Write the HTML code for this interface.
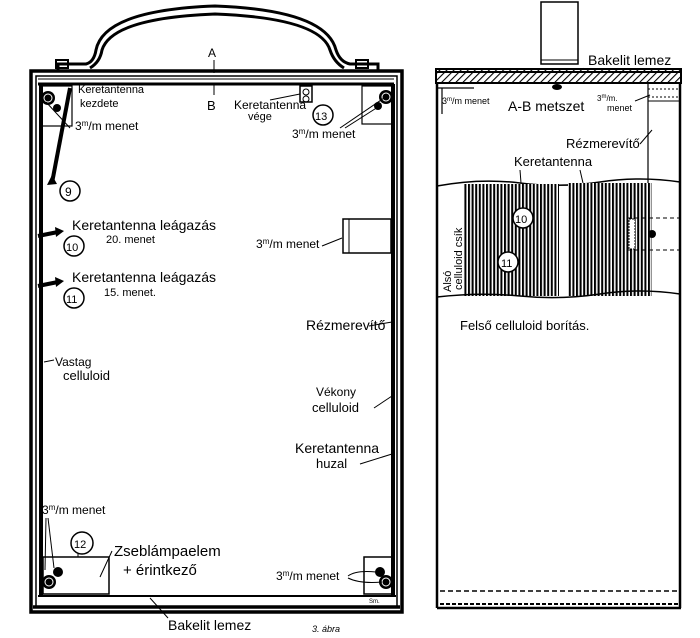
<!DOCTYPE html>
<html><head><meta charset="utf-8"><style>
html,body{margin:0;padding:0;background:#fff;}
svg{display:block;}
text{font-family:"Liberation Sans",sans-serif;fill:#000;}
</style></head><body>
<svg width="700" height="638" viewBox="0 0 700 638" xmlns="http://www.w3.org/2000/svg">
<defs>
<pattern id="hatch" width="5" height="5" patternUnits="userSpaceOnUse" patternTransform="rotate(45)">
<rect width="5" height="5" fill="#fff"/><line x1="0" y1="0" x2="0" y2="5" stroke="#000" stroke-width="2.2"/></pattern>
<pattern id="vs" width="3.6" height="10" patternUnits="userSpaceOnUse">
<rect width="3.6" height="10" fill="#fff"/><rect width="2" height="10" fill="#000"/></pattern>
</defs>
<!-- Handle -->
<path d="M58 70 L58 64 L86 64 Q94 62 96 50 Q104 10 215 6 Q326 10 336 50 Q340 62 350 64 L378 64 L378 70" fill="none" stroke="#000" stroke-width="3"/>
<path d="M90 68 Q100 62 102 50 Q112 18 215 14 Q320 18 330 50 Q334 62 344 68" fill="none" stroke="#000" stroke-width="3"/>
<rect x="56" y="60" width="12" height="8" fill="none" stroke="#000" stroke-width="2"/>
<rect x="356" y="60" width="12" height="8" fill="none" stroke="#000" stroke-width="2"/>
<!-- Left frame -->
<rect x="31" y="71" width="371" height="541" fill="none" stroke="#000" stroke-width="3.5"/>
<rect x="36" y="76" width="361" height="531" fill="none" stroke="#000" stroke-width="1.5"/>
<line x1="38" y1="84" x2="394" y2="84" stroke="#000" stroke-width="3"/>
<line x1="38" y1="79" x2="394" y2="79" stroke="#000" stroke-width="1"/>
<line x1="41" y1="84" x2="41" y2="596" stroke="#000" stroke-width="4"/>
<line x1="393" y1="84" x2="393" y2="596" stroke="#000" stroke-width="4"/>
<line x1="38" y1="596" x2="396" y2="596" stroke="#000" stroke-width="2"/>
<line x1="33" y1="607" x2="400" y2="607" stroke="#000" stroke-width="3.5"/>
<!-- A-B -->
<text x="208" y="57" font-size="12">A</text>
<line x1="214" y1="60" x2="214" y2="73" stroke="#000" stroke-width="1"/>
<line x1="214" y1="84" x2="214" y2="95" stroke="#000" stroke-width="1"/>
<text x="207" y="110" font-size="13">B</text>
<!-- top-left corner -->
<rect x="42" y="86" width="30" height="40" fill="none" stroke="#000" stroke-width="1.2"/>
<circle cx="48" cy="98" r="7" fill="#000"/><circle cx="48" cy="98" r="4" fill="none" stroke="#fff" stroke-width="1"/>
<circle cx="57" cy="108" r="4" fill="#000"/>
<line x1="46" y1="102" x2="70" y2="128" stroke="#000" stroke-width="1"/>
<path d="M70 88 L52 183" stroke="#000" stroke-width="4" fill="none"/>
<path d="M47 185 L52 175 L57 184 Z" fill="#000"/>
<text x="78" y="93" font-size="11">Keretantenna</text>
<text x="80" y="107" font-size="11">kezdete</text>
<text x="75" y="130" font-size="12">3<tspan font-size="8" dy="-4">m</tspan><tspan dy="4">/m menet</tspan></text>
<circle cx="70" cy="191" r="10" fill="#fff" stroke="#000" stroke-width="1.5"/><text x="65" y="196" font-size="12">9</text>
<!-- taps -->
<path d="M38 236 L58 232" stroke="#000" stroke-width="4"/><path d="M55 227 L64 231 L56 237 Z" fill="#000"/>
<circle cx="74" cy="246" r="10" fill="#fff" stroke="#000" stroke-width="1.5"/><text x="66" y="251" font-size="11">10</text>
<text x="72" y="230" font-size="14">Keretantenna leágazás</text>
<text x="106" y="243" font-size="11">20. menet</text>
<path d="M38 286 L58 282" stroke="#000" stroke-width="4"/><path d="M55 277 L64 281 L56 287 Z" fill="#000"/>
<circle cx="74" cy="298" r="10" fill="#fff" stroke="#000" stroke-width="1.5"/><text x="66" y="303" font-size="11">11</text>
<text x="72" y="282" font-size="14">Keretantenna leágazás</text>
<text x="104" y="296" font-size="11">15. menet.</text>
<!-- top-right -->
<rect x="300" y="86" width="12" height="16" fill="none" stroke="#000" stroke-width="1.5"/>
<circle cx="306" cy="92" r="3" fill="none" stroke="#000"/><circle cx="306" cy="99" r="3" fill="none" stroke="#000"/>
<text x="234" y="109" font-size="12">Keretantenna</text>
<text x="248" y="120" font-size="11">vége</text>
<line x1="270" y1="100" x2="300" y2="94" stroke="#000"/>
<circle cx="323" cy="115" r="10" fill="#fff" stroke="#000" stroke-width="1.5"/><text x="315" y="120" font-size="11">13</text>
<rect x="362" y="86" width="30" height="38" fill="none" stroke="#000" stroke-width="1.2"/>
<circle cx="386" cy="97" r="7" fill="#000"/><circle cx="386" cy="97" r="4" fill="none" stroke="#fff"/>
<circle cx="378" cy="106" r="4" fill="#000"/>
<line x1="340" y1="128" x2="384" y2="98" stroke="#000"/><line x1="345" y1="128" x2="378" y2="107" stroke="#000"/>
<text x="292" y="138" font-size="12">3<tspan font-size="8" dy="-4">m</tspan><tspan dy="4">/m menet</tspan></text>
<!-- right middle block -->
<rect x="343" y="219" width="48" height="34" fill="none" stroke="#000" stroke-width="1.5"/>
<line x1="349" y1="219" x2="349" y2="253" stroke="#000"/>
<text x="256" y="248" font-size="12">3<tspan font-size="8" dy="-4">m</tspan><tspan dy="4">/m menet</tspan></text>
<line x1="322" y1="246" x2="342" y2="238" stroke="#000"/>
<text x="306" y="330" font-size="14">Rézmerevítő</text>
<line x1="369" y1="326" x2="392" y2="322" stroke="#000"/>
<text x="316" y="396" font-size="12">Vékony</text>
<text x="312" y="412" font-size="13">celluloid</text>
<line x1="374" y1="408" x2="392" y2="396" stroke="#000"/>
<text x="295" y="453" font-size="14">Keretantenna</text>
<text x="316" y="468" font-size="13">huzal</text>
<line x1="360" y1="464" x2="392" y2="454" stroke="#000"/>
<text x="55" y="366" font-size="12">Vastag</text>
<text x="63" y="380" font-size="13">celluloid</text>
<line x1="44" y1="362" x2="54" y2="360" stroke="#000"/>
<!-- bottom left -->
<text x="42" y="514" font-size="12">3<tspan font-size="8" dy="-4">m</tspan><tspan dy="4">/m menet</tspan></text>
<line x1="46" y1="518" x2="45" y2="570" stroke="#000"/><line x1="48" y1="518" x2="54" y2="568" stroke="#000"/>
<rect x="43" y="557" width="66" height="37" fill="none" stroke="#000" stroke-width="1.5"/>
<circle cx="58" cy="572" r="5" fill="#000"/>
<circle cx="49" cy="582" r="7" fill="#000"/><circle cx="49" cy="582" r="4" fill="none" stroke="#fff"/>
<line x1="78" y1="557" x2="78" y2="552" stroke="#000"/>
<circle cx="82" cy="543" r="11" fill="#fff" stroke="#000" stroke-width="1.5"/><text x="74" y="548" font-size="11">12</text>
<text x="114" y="556" font-size="15">Zseblámpaelem</text>
<text x="123" y="575" font-size="15">+ érintkező</text>
<line x1="112" y1="551" x2="100" y2="577" stroke="#000"/>
<!-- bottom right -->
<rect x="364" y="557" width="28" height="37" fill="none" stroke="#000" stroke-width="1.5"/>
<circle cx="380" cy="572" r="5" fill="#000"/>
<circle cx="386" cy="582" r="7" fill="#000"/><circle cx="386" cy="582" r="4" fill="none" stroke="#fff"/>
<text x="276" y="580" font-size="12">3<tspan font-size="8" dy="-4">m</tspan><tspan dy="4">/m menet</tspan></text>
<path d="M348 576 Q356 570 376 572 M348 578 Q360 584 382 582" stroke="#000" fill="none"/>
<text x="369" y="603" font-size="6">Sm.</text>
<line x1="150" y1="598" x2="168" y2="618" stroke="#000"/>
<text x="168" y="630" font-size="14">Bakelit lemez</text>
<text x="312" y="632" font-size="9" font-style="italic">3. ábra</text>
<!-- RIGHT PANEL -->
<rect x="541" y="2" width="37" height="62" fill="#fff" stroke="#000" stroke-width="1.5"/>
<line x1="541" y1="60" x2="578" y2="60" stroke="#000"/>
<text x="588" y="65" font-size="14">Bakelit lemez</text>
<line x1="584" y1="68" x2="580" y2="78" stroke="#000"/>
<rect x="436" y="69" width="245" height="14" fill="url(#hatch)" stroke="#000" stroke-width="2"/>
<line x1="436" y1="72" x2="681" y2="72" stroke="#000" stroke-width="2"/>
<line x1="437" y1="83" x2="437" y2="608" stroke="#000" stroke-width="2.5"/>
<line x1="680" y1="83" x2="680" y2="608" stroke="#000" stroke-width="2.5"/>
<line x1="437" y1="608" x2="681" y2="608" stroke="#000" stroke-width="2.5"/>
<path d="M437 88 L474 88" stroke="#000" stroke-width="1.2" fill="none"/>
<path d="M442 88 L442 114" stroke="#000" stroke-width="1.2"/>
<ellipse cx="557" cy="87" rx="5" ry="3" fill="#000"/>
<rect x="648" y="83" width="32" height="18" fill="none" stroke="#000"/>
<line x1="648" y1="89" x2="680" y2="89" stroke="#000" stroke-dasharray="2,2"/>
<line x1="648" y1="97" x2="680" y2="97" stroke="#000" stroke-dasharray="2,2"/>
<line x1="648" y1="83" x2="648" y2="184" stroke="#000" stroke-width="1.2"/>
<text x="442" y="104" font-size="9">3<tspan font-size="6" dy="-3">m</tspan><tspan dy="3">/m menet</tspan></text>
<text x="508" y="111" font-size="14">A-B metszet</text>
<text x="597" y="101" font-size="8">3<tspan font-size="6" dy="-3">m</tspan><tspan dy="3">/m.</tspan></text>
<text x="607" y="111" font-size="9">menet</text>
<line x1="635" y1="101" x2="650" y2="95" stroke="#000"/>
<text x="566" y="148" font-size="13">Rézmerevítő</text>
<line x1="640" y1="144" x2="652" y2="130" stroke="#000"/>
<text x="514" y="166" font-size="13">Keretantenna</text>
<line x1="520" y1="170" x2="521" y2="183" stroke="#000"/><line x1="580" y1="170" x2="583" y2="183" stroke="#000"/>
<path d="M437 186 Q480 178 520 183 T600 182 T680 182" fill="none" stroke="#000" stroke-width="1.5"/>
<rect x="463" y="184" width="96" height="112" fill="url(#vs)"/>
<rect x="568" y="183" width="84" height="113" fill="url(#vs)"/>
<path d="M437 297 Q480 292 520 296 T600 294 T680 294" fill="none" stroke="#000" stroke-width="1.5"/>
<line x1="628" y1="218" x2="680" y2="218" stroke="#000" stroke-dasharray="4,3"/>
<line x1="628" y1="250" x2="680" y2="250" stroke="#000" stroke-dasharray="4,3"/>
<rect x="629" y="219" width="6" height="30" fill="#fff" stroke="#000" stroke-dasharray="2,1"/>
<circle cx="652" cy="234" r="4" fill="#000"/>
<circle cx="523" cy="218" r="10" fill="#fff" stroke="#000" stroke-width="1.5"/><text x="515" y="223" font-size="11">10</text>
<circle cx="508" cy="262" r="10" fill="#fff" stroke="#000" stroke-width="1.5"/><text x="501" y="267" font-size="11">11</text>
<text transform="translate(451,292) rotate(-90)" font-size="11">Alsó</text>
<text transform="translate(462,290) rotate(-90)" font-size="11">celluloid csík</text>
<text x="460" y="330" font-size="13">Felső celluloid borítás.</text>
<line x1="440" y1="591" x2="680" y2="591" stroke="#000" stroke-width="1.5" stroke-dasharray="5,3"/>
<line x1="440" y1="604" x2="680" y2="604" stroke="#000" stroke-width="2" stroke-dasharray="4,2"/>
</svg>
</body></html>
